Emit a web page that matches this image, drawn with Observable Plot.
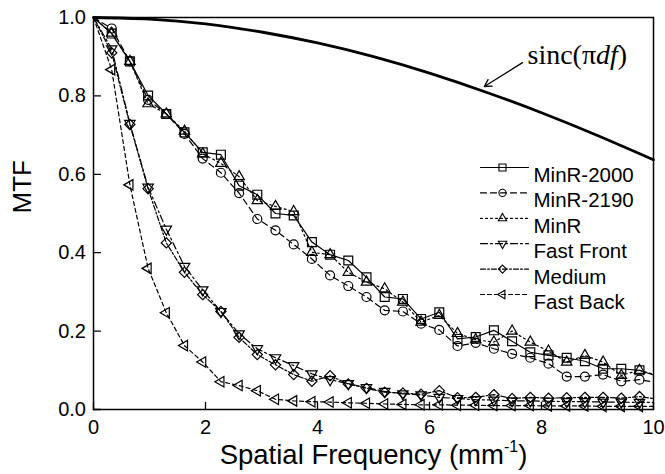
<!DOCTYPE html>
<html><head><meta charset="utf-8">
<script src="https://cdn.jsdelivr.net/npm/d3@7"></script>
<script src="https://cdn.jsdelivr.net/npm/@observablehq/plot@0.6"></script>
<style>body{margin:0;background:#fff}</style>
</head><body><div id="chart"></div>
<script>
// ---- data ----
const freq = [0, 0.325, 0.65, 0.975, 1.3, 1.625, 1.95, 2.275, 2.6, 2.925, 3.25, 3.575, 3.9, 4.225, 4.55, 4.875, 5.2, 5.525, 5.85, 6.175, 6.5, 6.825, 7.15, 7.475, 7.8, 8.125, 8.45, 8.775, 9.1, 9.425, 9.75, 10.0];
const minR2000 = [1.0, 0.959, 0.888, 0.801, 0.754, 0.707, 0.656, 0.650, 0.571, 0.548, 0.500, 0.495, 0.427, 0.395, 0.380, 0.337, 0.287, 0.282, 0.231, 0.248, 0.180, 0.185, 0.202, 0.174, 0.146, 0.138, 0.132, 0.123, 0.104, 0.104, 0.100, 0.088];
const minR2190 = [1.0, 0.972, 0.888, 0.790, 0.754, 0.703, 0.640, 0.604, 0.552, 0.486, 0.457, 0.421, 0.384, 0.342, 0.315, 0.287, 0.253, 0.250, 0.219, 0.203, 0.162, 0.170, 0.155, 0.142, 0.132, 0.117, 0.084, 0.084, 0.089, 0.072, 0.076, 0.070];
const minR = [1.0, 0.960, 0.888, 0.780, 0.754, 0.710, 0.652, 0.628, 0.594, 0.533, 0.518, 0.505, 0.401, 0.395, 0.350, 0.325, 0.308, 0.274, 0.223, 0.240, 0.194, 0.178, 0.172, 0.200, 0.172, 0.149, 0.121, 0.138, 0.121, 0.087, 0.100, 0.090];
const fastFront = [1.0, 0.920, 0.730, 0.567, 0.460, 0.365, 0.305, 0.250, 0.193, 0.155, 0.132, 0.112, 0.091, 0.076, 0.066, 0.056, 0.046, 0.040, 0.037, 0.031, 0.028, 0.025, 0.024, 0.022, 0.022, 0.021, 0.020, 0.020, 0.019, 0.019, 0.018, 0.018];
const medium = [1.0, 0.910, 0.727, 0.563, 0.425, 0.350, 0.293, 0.250, 0.184, 0.140, 0.114, 0.089, 0.072, 0.086, 0.065, 0.054, 0.044, 0.042, 0.039, 0.048, 0.030, 0.031, 0.038, 0.028, 0.031, 0.029, 0.030, 0.031, 0.031, 0.029, 0.033, 0.028];
const fastBack = [1.0, 0.867, 0.573, 0.360, 0.247, 0.163, 0.121, 0.071, 0.061, 0.048, 0.026, 0.022, 0.020, 0.019, 0.017, 0.016, 0.014, 0.013, 0.012, 0.012, 0.011, 0.011, 0.010, 0.010, 0.010, 0.009, 0.009, 0.009, 0.008, 0.008, 0.008, 0.008];
const sincFreq = [0, 1, 2, 3, 4, 5, 6, 7, 8, 9, 10];
const sincValues = [1.000, 0.996, 0.984, 0.963, 0.935, 0.900, 0.858, 0.810, 0.757, 0.699, 0.637];
const seriesNames = ["MinR-2000", "MinR-2190", "MinR", "Fast Front", "Medium", "Fast Back"];
const xTicks = [0, 2, 4, 6, 8, 10];
const yTicks = [0, 0.2, 0.4, 0.6, 0.8, 1.0];
const xTitle = "Spatial Frequency (mm-1)";
const yTitle = "MTF";
const sincLabel = "sinc(πdf)";
const sincLabelPos = [7.75, 0.905];
const arrowTail = [7.66, 0.885];
const arrowHead = [6.98, 0.824];

// ---- build ----
const seriesValues = [minR2000, minR2190, minR, fastFront, medium, fastBack];
const styles = [
  {symbol: "square", r: 5, rotate: 0, dash: null},
  {symbol: "circle", r: 4.5, rotate: 0, dash: "6,4"},
  {symbol: "triangle2", r: 5, rotate: 0, dash: "2,3"},
  {symbol: "triangle2", r: 5, rotate: 180, dash: "7,3,2,3"},
  {symbol: "diamond2", r: 4.6, rotate: 0, dash: "5,2,2,2"},
  {symbol: "triangle2", r: 5, rotate: -90, dash: "4,3"}
];
const lineShape = {draw(ctx, l) { ctx.moveTo(0, 0); ctx.lineTo(0, -l); }};
const marks = [];
seriesValues.forEach((vals, i) => {
  const rows = freq.map((f, j) => ({f, v: vals[j]}));
  const st = styles[i];
  marks.push(Plot.line(rows, {x: "f", y: "v", stroke: "black", strokeWidth: 1.2, strokeDasharray: st.dash}));
  marks.push(Plot.dot(rows.filter(d => d.f > 0 && d.f < 10), {x: "f", y: "v", symbol: st.symbol, r: st.r, rotate: st.rotate, stroke: "black", strokeWidth: 1.2, fill: "none"}));
  // legend entry
  const dy = 150 + i * 25.4;
  marks.push(Plot.vector([0], {frameAnchor: "top-left", dx: 387, dy, length: 48, rotate: 90, anchor: "start", shape: lineShape, stroke: "black", strokeWidth: 1.2, strokeDasharray: st.dash}));
  marks.push(Plot.dot([0], {frameAnchor: "top-left", dx: 409, dy, symbol: st.symbol, r: st.r * 0.8, rotate: st.rotate, stroke: "black", strokeWidth: 1.1, fill: "none"}));
  marks.push(Plot.text([seriesNames[i]], {frameAnchor: "top-left", dx: 440, dy, text: d => d, textAnchor: "start", fontSize: 20.5}));
});

const sincRows = sincFreq.map((f, j) => ({f, v: sincValues[j]}));

const chart = Plot.plot({
  width: 665, height: 474,
  marginLeft: 93, marginRight: 12, marginTop: 17, marginBottom: 65,
  style: {fontFamily: "'Liberation Sans', Arial, sans-serif", fontSize: "20px", color: "black", background: "white"},
  x: {domain: [0, 10]},
  y: {domain: [0, 1]},
  marks: [
    Plot.line(sincRows, {x: "f", y: "v", curve: "natural", stroke: "black", strokeWidth: 2.8}),
    ...marks,
    Plot.arrow([0], {x1: arrowTail[0], y1: arrowTail[1], x2: arrowHead[0], y2: arrowHead[1], stroke: "black", strokeWidth: 1.3, headLength: 9}),
    Plot.text([sincLabel], {x: sincLabelPos[0], y: sincLabelPos[1], text: d => d, textAnchor: "start", fontSize: 28, fontFamily: "'Liberation Serif', 'Times New Roman', serif"}),
    Plot.vector(xTicks, {x: d => d, y: 0, length: 7, rotate: 0, anchor: "start", shape: lineShape, stroke: "black", strokeWidth: 1.3}),
    Plot.vector(yTicks, {y: d => d, x: 0, length: 7, rotate: 90, anchor: "start", shape: lineShape, stroke: "black", strokeWidth: 1.3}),
    Plot.axisX(xTicks, {tickSize: 0, tickPadding: 10, label: null}),
    Plot.axisY(yTicks, {tickSize: 0, tickPadding: 7.5, tickFormat: d3.format(".1f"), label: null}),
    Plot.text([xTitle], {frameAnchor: "bottom", dy: 54, text: d => d, fontSize: 27.5}),
    Plot.text([yTitle], {frameAnchor: "left", dx: -71, rotate: -90, text: d => d, fontSize: 26}),
    Plot.frame({stroke: "black", strokeWidth: 1.5})
  ]
});
document.getElementById("chart").appendChild(chart);

// rich text (italics, superscript)
chart.querySelectorAll("text").forEach(t => {
  if (t.textContent === sincLabel) {
    t.innerHTML = 'sinc(π<tspan font-style="italic">df</tspan>)';
  } else if (t.textContent === xTitle) {
    t.innerHTML = 'Spatial Frequency (mm<tspan font-size="16" dy="-12">-1</tspan><tspan dy="12">)</tspan>';
  }
});
</script>
</body></html>
